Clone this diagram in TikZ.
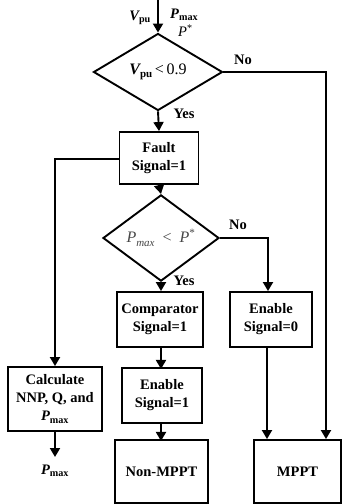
\documentclass[tikz,border=0pt]{standalone}
\usepackage{fontspec}
\setmainfont{Liberation Serif}
\usetikzlibrary{arrows.meta,shapes.geometric}
\newcommand\flowfont{\fontsize{14.5}{18}\selectfont}
% lowered index in a fixed smaller size
\newcommand\lowidx[1]{\raisebox{-0.22em}{\fontsize{11}{11}\selectfont #1}}
\tikzset{
  flow/.style={line width=1.9pt,-{Triangle[length=9pt,width=10pt]}},
  procbox/.style={draw,line width=1.9pt,rectangle,inner sep=0pt,align=center,
    font=\flowfont\bfseries},
  decide/.style={draw,line width=1.9pt,diamond,inner sep=0pt,
    font=\fontsize{16}{18}\selectfont},
  lbl/.style={inner sep=0pt,font=\flowfont\bfseries}
}
\begin{document}
\begin{tikzpicture}[x=1pt,y=-1pt]
\useasboundingbox (0,0) rectangle (342,504);
% decisions
\node[decide,minimum width=129pt,minimum height=77pt] (d1) at (158,72)
  {{\bfseries\itshape V}\lowidx{\bfseries pu}\,<\,0.9};
\node[decide,minimum width=116pt,minimum height=73pt] (d2) at (161,238)
  {\color{black!72}{\itshape P}\lowidx{\itshape max}\enspace<\enspace{\itshape P}\textsuperscript{*}};
% process boxes
\node[procbox,minimum width=79pt,minimum height=52pt] (fault) at (159,158) {Fault\\Signal=1};
\node[procbox,minimum width=86pt,minimum height=55pt] (comp) at (160,319.5) {Comparator\\Signal=1};
\node[procbox,minimum width=80pt,minimum height=55pt] (en1) at (162,395.5) {Enable\\Signal=1};
\node[procbox,minimum width=82pt,minimum height=55pt] (en0) at (271,319.5) {Enable\\Signal=0};
\node[procbox,minimum width=93pt,minimum height=63pt] (nonmppt) at (161.5,471.5) {Non-MPPT};
\node[procbox,minimum width=87pt,minimum height=63pt] (mppt) at (297.5,471.5) {MPPT};
\node[procbox,minimum width=94pt,minimum height=64pt] (calc) at (55,399)
  {Calculate\\NNP, Q, and\\{\itshape P}\textsubscript{max}};
% inputs and output
\coordinate (in) at (158,0);
\coordinate (out) at (55,457);
\node[lbl,anchor=east] (vpu) at (151,18) {{\itshape V}\textsubscript{pu}};
\node[lbl,anchor=west] (pmaxin) at (170,15) {{\itshape P}\textsubscript{max}};
\node[lbl,anchor=west,font=\flowfont] (pstar) at (178,31) {{\itshape P}\textsuperscript{*}};
\node[lbl] (pmaxout) at (55,471) {{\itshape P}\textsubscript{max}};
% branch labels
\node[lbl] (no1) at (243,60) {No};
\node[lbl] (yes1) at (184,114) {Yes};
\node[lbl] (no2) at (238,225) {No};
\node[lbl] (yes2) at (184,281) {Yes};
% connectors
\draw[flow] (in) -- (d1.north);
\draw[flow] (d1.south) -- (fault.north);
\draw[flow] (fault.south) -- (d2.north);
\draw[flow] (d2.south) -- (d2.south |- comp.north);
\draw[flow] (comp.south -| en1.north) ++(-1,0) -- ++(0,21);
\draw[flow] (en1.south) ++(-1,0) -- ++(0,17);
\draw[flow] (d2.east) -| (268,0 |- en0.north);
\draw[flow] (d1.east) -| (326,0 |- mppt.north);
\draw[flow] (267,0 |- en0.south) -- (267,0 |- mppt.north);
\draw[flow] (fault.west |- 0,159) -| (calc.north);
\draw[flow] (calc.south) -- (out);
\end{tikzpicture}
\end{document}
